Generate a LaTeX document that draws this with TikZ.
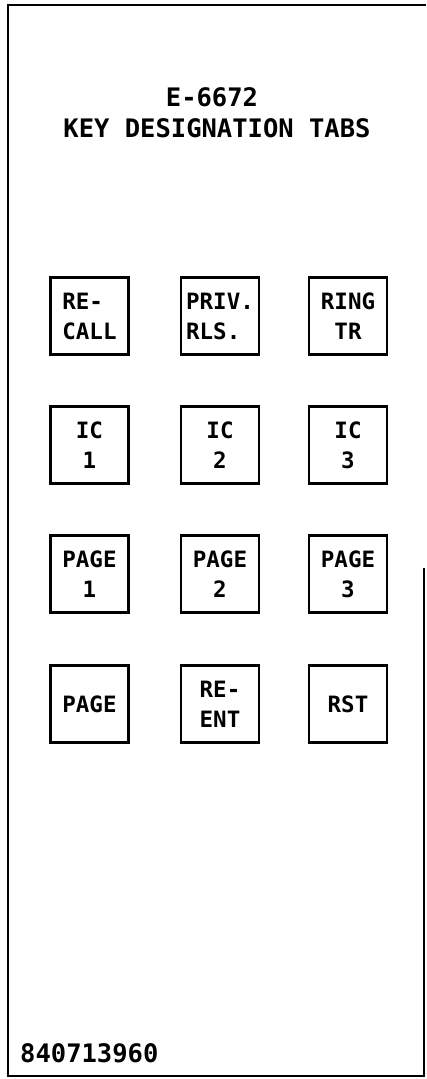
\documentclass[tikz,border=0pt]{standalone}
\usepackage{fontspec}
\newfontfamily\plotfont{DejaVu Sans Mono}
\begin{document}
\begin{tikzpicture}[x=1pt,y=-1pt,
  tabbox/.style={draw, line width=2.3pt, minimum width=78pt, minimum height=77pt,
    inner sep=0pt, font=\plotfont\bfseries\fontsize{22.5}{30}\selectfont},
  titletext/.style={font=\plotfont\bfseries\fontsize{25.5}{30}\selectfont, anchor=base, inner sep=0pt},
  frame/.style={line width=2.8pt, line join=miter}]
\useasboundingbox (0,0) rectangle (426,1079);
\draw[frame] (424,568) -- (424,1076) -- (8,1076) -- (8,5) -- (426,5);
\node[titletext] (t1) at (212,106) {E-6672};
\node[titletext] (t2) at (217,137) {KEY DESIGNATION TABS};
% row 1
\node[tabbox, align=left] (recall) at (89.5,316) {RE-\\CALL};
\node[tabbox, align=left] (priv) at (220,316) {PRIV.\\RLS.};
\node[tabbox, align=center] (ring) at (348,316) {RING\\TR};
% row 2
\node[tabbox, align=center] (ic1) at (89.5,445) {IC\\1};
\node[tabbox, align=center] (ic2) at (220,445) {IC\\2};
\node[tabbox, align=center] (ic3) at (348,445) {IC\\3};
% row 3
\node[tabbox, align=center] (page1) at (89.5,574) {PAGE\\1};
\node[tabbox, align=center] (page2) at (220,574) {PAGE\\2};
\node[tabbox, align=center] (page3) at (348,574) {PAGE\\3};
% row 4
\node[tabbox, align=center] (page) at (89.5,704) {PAGE};
\node[tabbox, align=left] (reent) at (220,704) {RE-\\ENT};
\node[tabbox, align=center] (rst) at (348,704) {RST};
% part number
\node[font=\plotfont\bfseries\fontsize{25.5}{30}\selectfont, anchor=base west, inner sep=0pt] (num) at (20,1062) {840713960};
\end{tikzpicture}
\end{document}
